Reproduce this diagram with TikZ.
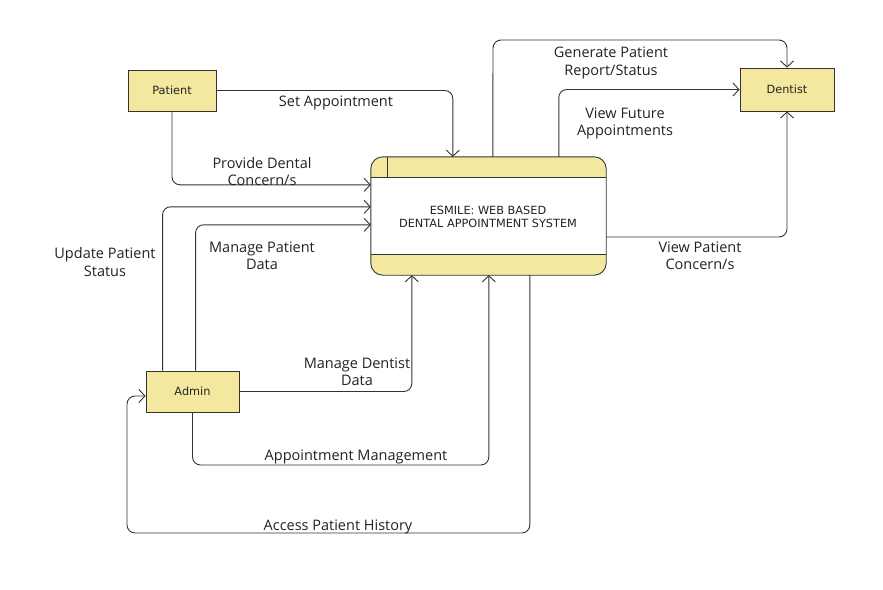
\documentclass[tikz,border=0pt]{standalone}
\usepackage{fontspec}
\setmainfont{Open Sans}
\newfontfamily\boxfont{DejaVu Sans}
\usetikzlibrary{arrows.meta,calc}
\definecolor{boxfill}{HTML}{F4E8A0}
\definecolor{linec}{HTML}{333333}
\definecolor{txt}{HTML}{222222}
\tikzset{
  ent/.style={draw=linec, line width=0.9pt, fill=boxfill, minimum width=#1, minimum height=41pt, inner sep=0pt, font=\boxfont\fontsize{11.3}{13.5}\selectfont, text=txt},
  flow/.style={draw=linec, line width=0.9pt, rounded corners=8pt, -{Straight Barb[length=6pt,width=13pt,line width=0.9pt]}},
  lab/.style={font=\fontsize{14.5}{17.5}\selectfont, text=txt, align=center, inner sep=0pt}
}
\begin{document}
\begin{tikzpicture}[x=1pt,y=-1pt]
\useasboundingbox (0,0) rectangle (883,589);
% entities
\node[ent=88pt] (pat) at (172,90.5) {Patient};
\node[ent=94pt, minimum height=43pt] (den) at (787,89.5) {Dentist};
\node[ent=93pt] (adm) at (192.5,391.5) {Admin};
% system
\node[minimum width=235pt, minimum height=118pt, inner sep=0pt] (sys) at (488.5,216) {};
\fill[boxfill, rounded corners=12pt] (sys.north west) rectangle (sys.south east);
\fill[white] ($(sys.north west)+(0,21)$) rectangle ($(sys.south east)+(0,-21)$);
\draw[linec, line width=0.9pt, rounded corners=12pt] (sys.north west) rectangle (sys.south east);
\draw[linec, line width=0.9pt] ($(sys.north west)+(0,21)$) -- ($(sys.north east)+(0,21)$);
\draw[linec, line width=0.9pt] ($(sys.south west)+(0,-21)$) -- ($(sys.south east)+(0,-21)$);
\draw[linec, line width=0.9pt] ($(sys.north west)+(17,0)$) -- ($(sys.north west)+(17,21)$);
\node[font=\boxfont\fontsize{11.3}{13.5}\selectfont, text=txt, align=center, inner sep=0pt] (systxt) at (488,217) {ESMILE: WEB BASED\\DENTAL APPOINTMENT SYSTEM};
% connectors
\draw[flow] (pat.east) -| ($(sys.north west)+(82,0)$);
\draw[flow] (pat.south) |- ($(sys.north west)+(0,28)$);
\draw[flow] ($(adm.north west)+(17,0)$) |- ($(sys.north west)+(0,50)$);
\draw[flow] ($(adm.north west)+(50,0)$) |- ($(sys.north west)+(0,68)$);
\draw[flow] (adm.east) -| ($(sys.south west)+(41,0)$);
\coordinate (c6) at (192.5,465);
\draw[flow] (adm.south) -- (c6) -| ($(sys.south west)+(118,0)$);
\coordinate (c7) at (127,533);
\draw[flow] ($(sys.south west)+(159,0)$) |- (c7) |- ($(adm.west)+(0,4.5)$);
\coordinate (c8) at (493,40);
\draw[flow] ($(sys.north west)+(122,0)$) -- (c8) -| (den.north);
\draw[flow] ($(sys.north west)+(188,0)$) |- (den.west);
\draw[flow] ($(sys.east)+(0,21)$) -| (den.south);
% labels
\node[lab] (l1) at (336,103) {Set Appointment};
\node[lab] (l2) at (262,171.5) {Provide Dental\\Concern/s};
\node[lab] (l3) at (105,262) {Update Patient\\Status};
\node[lab] (l4) at (262,255.5) {Manage Patient\\Data};
\node[lab] (l5) at (357,371.5) {Manage Dentist\\Data};
\node[lab] (l6) at (356,457) {Appointment Management};
\node[lab] (l7) at (338,527) {Access Patient History};
\node[lab] (l8) at (611,63) {Generate Patient\\Report/Status};
\node[lab] (l9) at (625,123.5) {View Future\\Appointments};
\node[lab] (l10) at (700,255.5) {View Patient\\Concern/s};
\end{tikzpicture}
\end{document}
